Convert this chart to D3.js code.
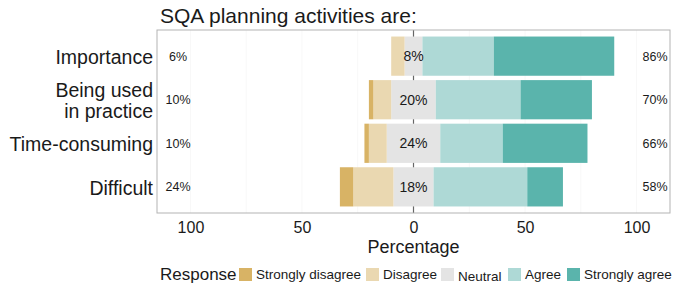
<!DOCTYPE html>
<html>
<head>
<meta charset="utf-8">
<script src="https://cdn.jsdelivr.net/npm/d3@7"></script>
<style>
  body { margin: 0; background: #fff; }
  text { font-family: "Liberation Sans", Arial, sans-serif; fill: #1a1a1a; }
</style>
</head>
<body>
<div id="chart"></div>
<script>
const items = ["Importance", "Being used\nin practice", "Time-consuming", "Difficult"];
const levels = ["Strongly disagree", "Disagree", "Neutral", "Agree", "Strongly agree"];
const colors = ["#d8b365", "#ead8b1", "#e4e4e4", "#aed9d6", "#5ab4ac"];
const stronglyDisagree = [0, 2, 2, 6];
const disagree = [6, 8, 8, 18];
const neutral = [8, 20, 24, 18];
const agree = [32, 38, 28, 42];
const stronglyAgree = [54, 32, 38, 16];
const xTicks = [-100, -50, 0, 50, 100];

const W = 676, H = 289;
const svg = d3.select("#chart").append("svg")
  .attr("width", W).attr("height", H);

const panel = { left: 157, right: 670, top: 30, bottom: 213 };

const x = d3.scaleLinear().domain([-115, 115]).range([panel.left, panel.right]);
const y = d3.scaleBand().domain(items).range([panel.top, panel.bottom])
  .paddingInner(0.1).paddingOuter(0.15);

// grid (barely visible)
svg.append("g")
  .selectAll("line")
  .data(d3.range(-100, 101, 25).filter(d => d !== 0))
  .join("line")
  .attr("x1", d => x(d)).attr("x2", d => x(d))
  .attr("y1", panel.top).attr("y2", panel.bottom)
  .attr("stroke", "#f8f8f8");

// zero line
svg.append("line")
  .attr("x1", x(0)).attr("x2", x(0))
  .attr("y1", panel.top).attr("y2", panel.bottom)
  .attr("stroke", "#666").attr("stroke-width", 1.2);

// stack segments, neutral centred on zero
const segs = [];
items.forEach((it, i) => {
  const n = neutral[i];
  let left = -n / 2;
  segs.push({ item: it, k: 2, x0: -n / 2, x1: n / 2 });
  segs.push({ item: it, k: 1, x0: left - disagree[i], x1: left });
  left -= disagree[i];
  segs.push({ item: it, k: 0, x0: left - stronglyDisagree[i], x1: left });
  let right = n / 2;
  segs.push({ item: it, k: 3, x0: right, x1: right + agree[i] });
  right += agree[i];
  segs.push({ item: it, k: 4, x0: right, x1: right + stronglyAgree[i] });
});

svg.append("g")
  .selectAll("rect")
  .data(segs.filter(d => d.x1 > d.x0))
  .join("rect")
  .attr("x", d => x(d.x0))
  .attr("width", d => x(d.x1) - x(d.x0))
  .attr("y", d => y(d.item))
  .attr("height", y.bandwidth())
  .attr("fill", d => colors[d.k]);

// panel border
svg.append("rect")
  .attr("x", panel.left).attr("y", panel.top)
  .attr("width", panel.right - panel.left)
  .attr("height", panel.bottom - panel.top)
  .attr("fill", "none").attr("stroke", "#b3b3b3");

// percentage labels
const mid = i => y(items[i]) + y.bandwidth() / 2;
const lbl = svg.append("g").attr("font-size", 12.5);
items.forEach((it, i) => {
  lbl.append("text").attr("x", 178).attr("y", mid(i)).attr("dy", "0.35em")
    .attr("text-anchor", "middle").text((stronglyDisagree[i] + disagree[i]) + "%");
  lbl.append("text").attr("x", x(0)).attr("y", mid(i)).attr("dy", "0.35em")
    .attr("text-anchor", "middle").attr("font-size", 14).text(neutral[i] + "%");
  lbl.append("text").attr("x", 655).attr("y", mid(i)).attr("dy", "0.35em")
    .attr("text-anchor", "middle").text((agree[i] + stronglyAgree[i]) + "%");
});

// y axis labels
const yl = svg.append("g").attr("font-size", 19.5).attr("text-anchor", "end");
items.forEach((it, i) => {
  const lines = it.split("\n");
  const t = yl.append("text").attr("x", 153).attr("y", mid(i) + 1);
  lines.forEach((ln, j) => {
    t.append("tspan").attr("x", 153)
      .attr("dy", j === 0 ? ((0.35 - (lines.length - 1) * 0.54) + "em") : "1.08em")
      .text(ln);
  });
});

// x axis
const xa = svg.append("g").attr("transform", `translate(0,${panel.bottom})`)
  .call(d3.axisBottom(x).tickValues(xTicks).tickFormat(d => Math.abs(d)).tickSize(0).tickPadding(9));
xa.select(".domain").remove();
xa.selectAll("text").attr("font-size", 16).attr("fill", "#1a1a1a")
  .attr("font-family", "Liberation Sans, Arial, sans-serif");

svg.append("text").attr("x", x(0)).attr("y", 253)
  .attr("text-anchor", "middle").attr("font-size", 18).text("Percentage");

// title
svg.append("text").attr("x", 160).attr("y", 23)
  .attr("font-size", 21).text("SQA planning activities are:");

// legend
const lg = svg.append("g");
lg.append("text").attr("x", 160).attr("y", 280).attr("font-size", 17).text("Response");
const legX = [239, 366, 441, 508, 567];
levels.forEach((lv, i) => {
  lg.append("rect").attr("x", legX[i]).attr("y", 268).attr("width", 13).attr("height", 13)
    .attr("fill", colors[i]);
  lg.append("text").attr("x", legX[i] + 17).attr("y", lv === "Neutral" ? 281 : 279)
    .attr("font-size", 13.5).text(lv);
});
</script>
</body>
</html>
